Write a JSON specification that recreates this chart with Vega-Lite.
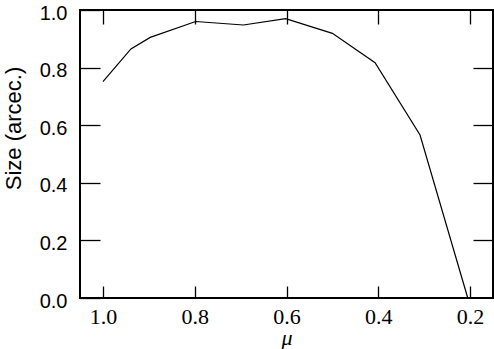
{
  "$schema": "https://vega.github.io/schema/vega-lite/v6.json",
  "width": 413,
  "height": 288,
  "autosize": {"type": "none"},
  "padding": {"left": 80, "top": 10, "right": 1, "bottom": 51},
  "background": "white",
  "config": {
    "view": {"stroke": "black", "strokeWidth": 2},
    "axis": {"grid": false, "domain": false, "tickColor": "black", "tickWidth": 1.3}
  },
  "datasets": {
    "pts": [
      {"s": "A", "mu": 1.0, "y": 0.751},
      {"s": "A", "mu": 0.939, "y": 0.865},
      {"s": "A", "mu": 0.897, "y": 0.905},
      {"s": "A", "mu": 0.798, "y": 0.96},
      {"s": "A", "mu": 0.694, "y": 0.948},
      {"s": "A", "mu": 0.602, "y": 0.97},
      {"s": "A", "mu": 0.5, "y": 0.919},
      {"s": "A", "mu": 0.407, "y": 0.817},
      {"s": "A", "mu": 0.309, "y": 0.566},
      {"s": "A", "mu": 0.205, "y": 0.0}
    ]
  },
  "data": {"name": "pts"},
  "resolve": {"axis": {"x": "independent", "y": "independent"}},
  "layer": [
    {
      "mark": {"type": "line", "color": "black", "strokeWidth": 1.2},
      "encoding": {
        "x": {
          "field": "mu", "type": "quantitative",
          "scale": {"domain": [0.15, 1.05], "reverse": true, "nice": false, "zero": false},
          "axis": {
            "orient": "bottom", "values": [1.0, 0.8, 0.6, 0.4, 0.2], "format": ".1f",
            "ticks": true, "tickSize": -12, "labelPadding": 20, "labelFont": "Liberation Serif", "labelFontSize": 22,
            "labelColor": "black", "labelFlush": false,
            "title": "μ", "titleFont": "Liberation Serif", "titleFontStyle": "italic", "titleFontWeight": "normal",
            "titleFontSize": 22, "titleColor": "black", "titleBaseline": "alphabetic", "titleY": 46
          }
        },
        "y": {
          "field": "y", "type": "quantitative",
          "scale": {"domain": [0, 1], "nice": false, "zero": false},
          "axis": {
            "orient": "left", "values": [0, 0.2, 0.4, 0.6, 0.8, 1.0], "format": ".1f",
            "ticks": true, "tickSize": -20, "labelPadding": 33, "labelFont": "Liberation Sans", "labelFontSize": 20,
            "labelColor": "black", "labelFlush": false, "labelOffset": 3,
            "title": "Size (arcec.)", "titleFont": "Liberation Sans", "titleFontWeight": "normal",
            "titleFontSize": 22, "titleColor": "black", "titleX": -67, "titleY": 118,
            "titleAlign": "center", "titleBaseline": "middle"
          }
        }
      }
    },
    {
      "mark": {"type": "point", "opacity": 0},
      "encoding": {
        "x": {
          "field": "mu", "type": "quantitative",
          "axis": {"orient": "top", "labels": false, "title": null, "ticks": true, "values": [1.0, 0.8, 0.6, 0.4, 0.2], "tickSize": -14}
        },
        "y": {
          "field": "y", "type": "quantitative",
          "axis": {"orient": "right", "labels": false, "title": null, "ticks": true, "values": [0.2, 0.4, 0.6, 0.8], "tickSize": -20}
        }
      }
    }
  ]
}
